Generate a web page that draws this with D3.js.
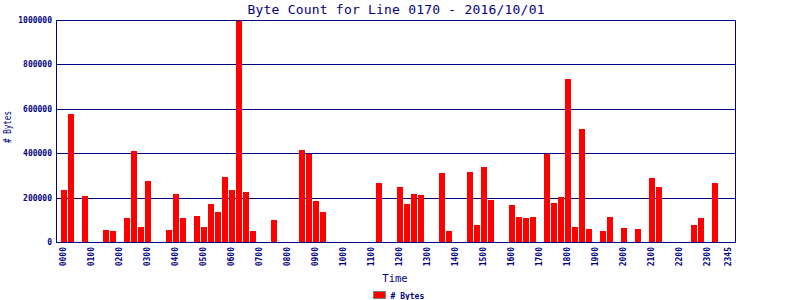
<!DOCTYPE html>
<html>
<head>
<meta charset="utf-8">
<script src="https://cdn.jsdelivr.net/npm/d3@7"></script>
<style>
	body { margin: 0; background: #fff; }
	svg { display: block; }
	text { font-family: 'DejaVu Sans Mono', monospace; fill: #000080; }
	.tick-text { font-size: 8px; font-weight: bold; }
</style>
</head>
<body>
<div id="chart-div"><svg id="chart-svg" width="800" height="300"></svg></div>
<script>
// byte count per 15 minute slot, 0000 .. 2345 (96 slots)
const BYTES = [
	234000, 577000, 0, 207000, 0, 0, 54000, 50000,
	0, 108000, 410000, 68000, 275000, 0, 0, 54000,
	216000, 108000, 0, 117000, 68000, 171000, 135000, 293000,
	234000, 1000000, 225000, 50000, 0, 0, 99000, 0,
	0, 0, 414000, 398000, 185000, 135000, 0, 0,
	0, 0, 0, 0, 0, 266000, 0, 0,
	248000, 171000, 216000, 212000, 0, 0, 311000, 50000,
	0, 0, 315000, 77000, 338000, 189000, 0, 0,
	167000, 113000, 108000, 113000, 0, 396000, 176000, 203000,
	734000, 68000, 509000, 59000, 0, 50000, 113000, 0,
	63000, 0, 59000, 0, 288000, 248000, 0, 0,
	0, 0, 77000, 108000, 0, 266000, 0, 0
];

// slots that get a label on the time axis, and their labels
const TICK_SLOTS = [0, 4, 8, 12, 16, 20, 24, 28, 32, 36, 40, 44, 48, 52, 56, 60, 64, 68, 72, 76, 80, 84, 88, 92, 95];
const TICK_LABELS = ['0000', '0100', '0200', '0300', '0400', '0500', '0600', '0700', '0800', '0900', '1000', '1100',
	'1200', '1300', '1400', '1500', '1600', '1700', '1800', '1900', '2000', '2100', '2200', '2300', '2345'];
const Y_TICKS = [0, 200000, 400000, 600000, 800000, 1000000];

const TITLE = 'Byte Count for Line 0170 - 2016/10/01';

const NAVY = '#000080';
const plot = { left: 56, right: 735, top: 20, bottom: 242 };

let svg = d3.select('#chart-svg');

let x = d3.scaleBand()
	.domain(d3.range(BYTES.length))
	.range([60.5, 732.5])
	.paddingInner(1 / 7)
	.paddingOuter(0.5 / 7);

let y = d3.scaleLinear([0, 1000000], [plot.bottom, plot.top]);

// gridlines + y labels
let yAxis = d3.axisLeft(y)
	.tickValues(Y_TICKS)
	.tickSize(-(plot.right - plot.left))
	.tickPadding(4)
	.tickFormat(d3.format('d'));
let yG = svg.append('g').attr('transform', `translate(${plot.left},0)`).call(yAxis);
yG.select('.domain').remove();
yG.selectAll('line').attr('stroke', NAVY).attr('shape-rendering', 'crispEdges');
yG.selectAll('text').attr('class', 'tick-text').attr('fill', NAVY);

// bars
svg.append('g')
	.selectAll('rect')
	.data(BYTES)
	.join('rect')
	.attr('x', (d, i) => x(i))
	.attr('y', (d) => y(d))
	.attr('width', x.bandwidth())
	.attr('height', (d) => y(0) - y(d))
	.attr('fill', '#ff0000')
	.attr('shape-rendering', 'crispEdges');

// frame
svg.append('path')
	.attr('d', `M${plot.left + 0.5},${plot.bottom + 0.5}V${plot.top + 0.5}H${plot.right + 0.5}V${plot.bottom + 0.5}H${plot.left + 0.5}`)
	.attr('fill', 'none')
	.attr('stroke', NAVY);

// time axis, labels rotated
let xAxis = d3.axisBottom(x)
	.tickValues(TICK_SLOTS)
	.tickSize(0)
	.tickFormat((d, i) => TICK_LABELS[i]);
let xG = svg.append('g').attr('transform', `translate(-1,${plot.bottom})`).call(xAxis);
xG.select('.domain').remove();
xG.selectAll('text')
	.attr('class', 'tick-text')
	.attr('fill', NAVY)
	.attr('transform', 'rotate(-90)')
	.attr('text-anchor', 'end')
	.attr('x', -5)
	.attr('y', 0)
	.attr('dy', '0.35em');

// title and axis names
svg.append('text')
	.attr('x', 396).attr('y', 14)
	.attr('text-anchor', 'middle')
	.attr('font-size', 13)
	.attr('textLength', 297)
	.text(TITLE);

svg.append('text')
	.attr('x', 395).attr('y', 282)
	.attr('text-anchor', 'middle')
	.attr('font-size', 10.5)
	.text('Time');

svg.append('text')
	.attr('transform', 'translate(11,127) rotate(-90)')
	.attr('text-anchor', 'middle')
	.attr('font-size', 11)
	.attr('textLength', 32)
	.attr('lengthAdjust', 'spacingAndGlyphs')
	.text('# Bytes');

// legend
let legendG = svg.append('g').attr('transform', 'translate(373.5,291.5)');
legendG.append('rect')
	.attr('width', 12).attr('height', 7)
	.attr('fill', '#ff0000')
	.attr('stroke', '#808080');
legendG.append('text')
	.attr('class', 'tick-text')
	.attr('x', 17).attr('y', 7)
	.text('# Bytes');
</script>
</body>
</html>
